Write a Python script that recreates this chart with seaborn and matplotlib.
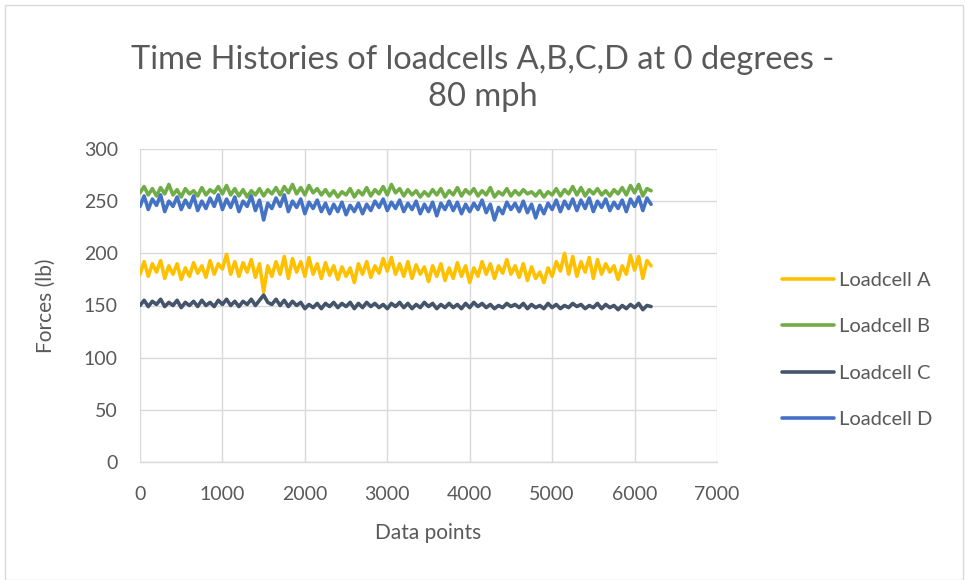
import numpy as np
import pandas as pd
import matplotlib
matplotlib.use("Agg")
import matplotlib.pyplot as plt
import seaborn as sns
from matplotlib.patches import Rectangle
from matplotlib.lines import Line2D

# Sample positions (data point index, every 50 points)
data_points = list(range(0, 6201, 50))

loadcell_a = [
    180,192,178,190,182,193,176,188,180,190,175,186,178,191,181,188,177,193,180,190,185,199,180,192,178,
    191,182,194,177,190,163,188,178,192,180,197,176,195,182,192,178,196,180,190,176,191,179,188,175,187,
    178,186,172,190,180,192,177,188,181,195,183,196,180,190,178,192,176,189,180,187,173,188,178,190,174,
    186,176,191,178,188,172,186,178,192,180,190,176,188,181,194,180,188,177,190,174,187,176,182,172,186,
    178,192,183,200,180,197,178,192,182,196,176,194,180,190,182,188,175,188,180,198,184,197,176,193,188,
]
loadcell_b = [
    258,264,256,262,255,263,257,266,256,261,254,262,257,260,255,263,256,261,258,264,257,265,256,262,255,
    261,254,260,256,262,255,261,257,263,256,264,258,266,257,263,256,265,258,262,256,261,255,260,254,259,
    256,262,254,260,256,263,255,261,257,264,256,266,258,262,255,261,256,260,254,259,255,261,256,262,254,
    260,256,263,255,261,257,262,255,260,256,263,254,259,256,262,255,260,256,261,257,259,255,260,254,259,
    256,262,255,261,257,264,256,263,255,261,257,262,256,260,255,261,257,263,256,265,258,266,255,262,260,
]
loadcell_c = [
    150,155,149,154,151,156,149,153,150,155,148,153,150,154,149,155,150,153,149,155,151,156,150,154,149,
    154,151,156,150,155,160,153,151,156,150,155,149,154,150,153,147,151,148,152,147,152,149,153,148,152,
    149,153,147,152,148,153,149,152,148,151,147,152,149,153,148,152,147,151,148,153,149,152,147,151,148,
    152,148,151,147,152,148,153,149,152,148,151,147,150,148,152,149,151,148,152,147,151,148,150,147,152,
    148,151,147,150,148,152,149,151,147,150,148,152,147,151,148,150,146,150,147,151,148,152,146,150,149,
]
loadcell_d = [
    245,255,242,252,246,256,240,250,245,254,242,251,244,255,241,250,243,253,245,256,242,252,244,254,240,
    250,245,255,241,251,232,248,243,253,245,256,240,250,244,252,238,249,243,251,240,248,238,247,240,249,
    237,246,240,248,238,247,241,250,244,252,241,249,243,251,240,248,242,250,238,247,240,249,236,248,242,
    250,241,249,238,247,240,248,242,251,239,247,232,244,238,249,242,248,240,250,239,247,234,246,238,248,
    242,251,240,250,243,252,241,251,243,253,240,250,244,252,241,249,243,251,240,252,245,254,241,253,247,
]

series_names = ["Loadcell A", "Loadcell B", "Loadcell C", "Loadcell D"]
series_colors = ["#FFC000", "#70AD47", "#44546A", "#4472C4"]
x_ticks = [0, 1000, 2000, 3000, 4000, 5000, 6000, 7000]
y_ticks = [0, 50, 100, 150, 200, 250, 300]

frames = []
for name, vals in zip(series_names, [loadcell_a, loadcell_b, loadcell_c, loadcell_d]):
    frames.append(pd.DataFrame({"Data points": data_points, "Forces (lb)": vals, "Series": name}))
df = pd.concat(frames, ignore_index=True)

sns.set_theme(style="white")
plt.rcParams["font.family"] = ["Lato", "DejaVu Sans"]

W, H = 967, 580
fig = plt.figure(figsize=(W / 100, H / 100), dpi=100)
ax = fig.add_axes([140 / W, 118 / H, 577 / W, 313 / H])

sns.lineplot(data=df, x="Data points", y="Forces (lb)", hue="Series",
             hue_order=series_names, palette=series_colors, linewidth=2.6,
             ax=ax, legend=False, estimator=None, sort=False)

ax.set_xlim(0, 7000)
ax.set_ylim(0, 300)
ax.set_xticks(x_ticks)
ax.set_yticks(y_ticks)
ax.grid(True, color="#d9d9d9", linewidth=1.0)
ax.set_axisbelow(True)
for s in ["top", "right", "left"]:
    ax.spines[s].set_visible(False)
ax.spines["bottom"].set_color("#d9d9d9")
ax.spines["bottom"].set_linewidth(1.0)
ax.tick_params(axis="x", length=0, labelsize=14, labelcolor="#595959", pad=17)
ax.tick_params(axis="y", length=0, labelsize=14, labelcolor="#595959", pad=16)

ax.set_xlabel("Data points", fontsize=15, color="#595959", labelpad=15)
ax.set_ylabel("Forces (lb)", fontsize=15, color="#595959", labelpad=20)

fig.text(483 / W, 1 - 60 / H, "Time Histories of loadcells A,B,C,D at 0 degrees -",
         ha="center", va="center", fontsize=23.5, color="#595959")
fig.text(483 / W, 1 - 97 / H, "80 mph", ha="center", va="center", fontsize=23.5, color="#595959")

handles = [Line2D([0], [0], color=c, linewidth=2.6) for c in series_colors]
leg = fig.legend(handles, series_names, loc="center left", bbox_to_anchor=(764 / W, 1 - 350 / H),
                 frameon=False, fontsize=14.5, labelcolor="#595959", handlelength=2.6,
                 handletextpad=0.2, labelspacing=1.45)

fig.add_artist(Rectangle((5 / W, 0), 958 / W, 1 - 5 / H, transform=fig.transFigure,
                         fill=False, edgecolor="#d9d9d9", linewidth=1.0))

fig.savefig("out.png", dpi=100, facecolor="white")
